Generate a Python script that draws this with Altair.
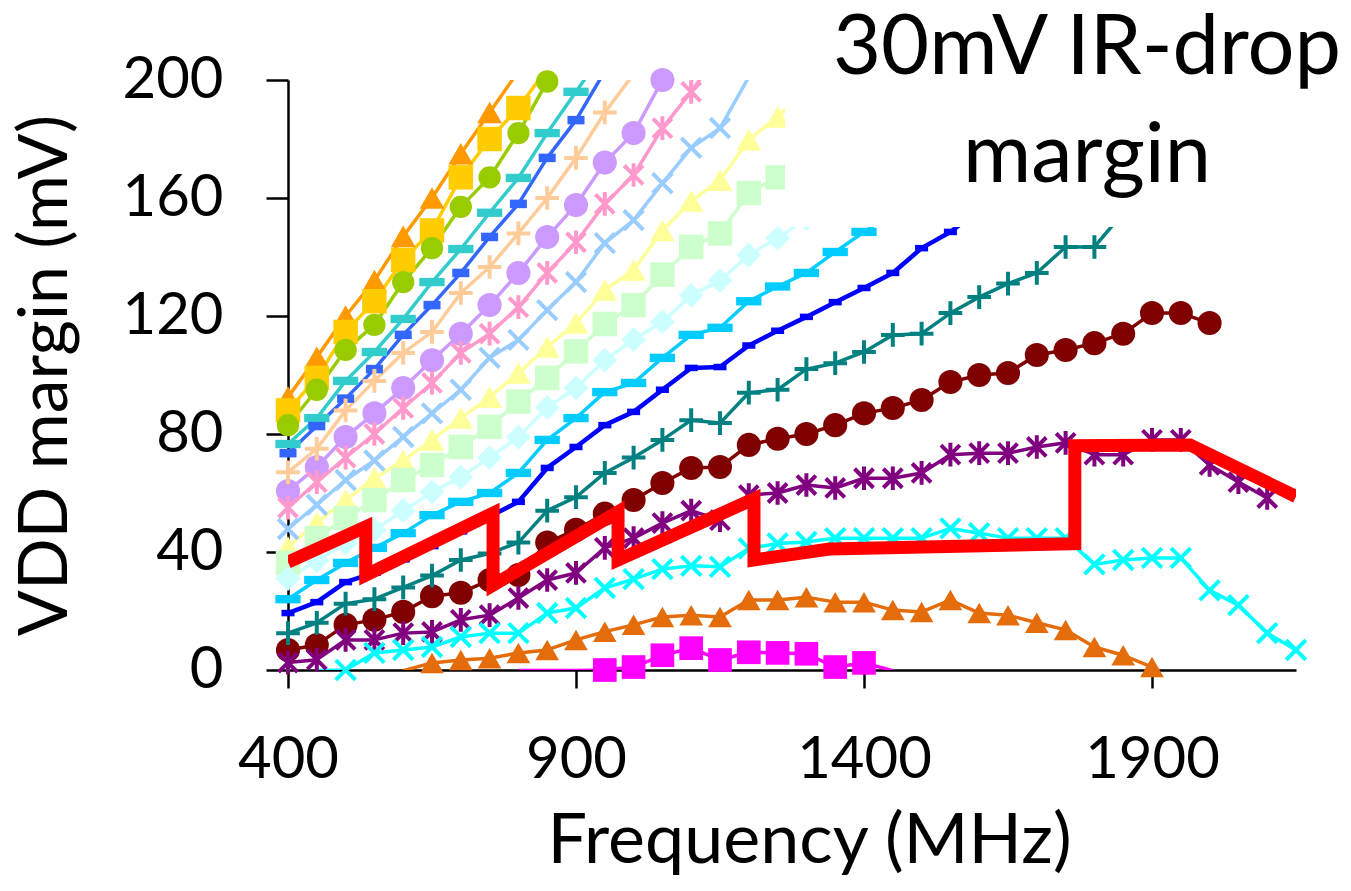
import altair as alt
import pandas as pd

STEP = 50  # MHz between measured points

# ---- measured series: (start frequency, values in mV on a 50 MHz grid) ----
s01_start, s01 = 400, [92.5, 106, 120, 132, 147, 160, 175, 189, 203]
s02_start, s02 = 400, [88, 99, 114.6, 125, 139, 149, 167, 180, 190.5, 204]
s03_start, s03 = 400, [83, 95, 108.5, 117, 131.5, 143, 157, 167, 182, 199.5]
s04_start, s04 = 400, [76.6, 85.4, 98, 107.8, 119, 131.5, 142.7, 155, 166.8, 182, 196, 210]
s05_start, s05 = 400, [73.5, 82.7, 92, 102, 113.6, 123.7, 134.6, 146.8, 158, 173.6, 186.4, 203]
s06_start, s06 = 400, [67, 75, 88, 98, 107.5, 114.6, 127.8, 136.6, 148, 160, 173.6, 189, 202]
s07_start, s07 = 400, [60.7, 68.8, 79, 87, 95.6, 105, 114, 123.7, 134.6, 146.8, 157.6, 172, 182, 200]
s08_start, s08 = 400, [55, 63.7, 72, 80, 88.8, 97.3, 107.5, 114, 123, 134.6, 145, 158, 167.8, 183.7, 196, 210]
s09_start, s09 = 400, [47.8, 56, 64.4, 71, 79, 87, 95, 105.8, 111.9, 122, 131.5, 144.7, 152.5, 165, 177, 183.7, 201]
s10_start, s10 = 400, [41.7, 50, 57.6, 65, 71, 78, 85.4, 92.5, 100.7, 109.5, 117.6, 128.8, 135.6, 149, 159, 166, 179.7, 187.5, 197]
s11_start, s11 = 400, [36.3, 44.7, 51.5, 57.6, 64.4, 69.5, 75.6, 82.4, 91, 99, 108, 117.3, 123.7, 134, 143.4, 148, 161.7, 167, 176]
s12_start, s12 = 400, [31, 37, 43, 47.5, 54, 60.3, 65.4, 72, 79, 89, 95.6, 105, 112, 118, 127, 132, 140.7, 146.4, 153]
s13_start, s13 = 400, [24, 30.5, 36.3, 41.4, 46.4, 52.5, 57, 60, 66.8, 78, 85.4, 94.2, 97.3, 105.8, 113.6, 116, 125, 130, 134.6, 141.7, 148.5, 155]
s14_start, s14 = 400, [19.3, 23, 29.8, 33, 37.5, 42, 47, 52, 57, 68.5, 75.6, 83, 87.5, 95, 102.4, 102.7, 110, 115, 119.7, 124.7, 129.5, 134.6, 143, 148.5, 156]
s15_start, s15 = 400, [12.5, 16, 22.5, 24, 28, 32, 37.3, 39.5, 43.2, 54, 58.6, 66.8, 72, 78, 84.7, 83.7, 94, 95, 102, 104, 107.8, 113.6, 114, 121, 126.4, 131, 134.6, 143.4, 143.4, 155]
s16_start, s16 = 400, [6.8, 8.5, 15.3, 17, 19.7, 25, 26.2, 30.5, 32.2, 43.2, 47.5, 53, 57.6, 63.4, 68.5, 68.8, 76.3, 78.4, 80, 83, 87, 88.8, 91.5, 97.6, 100, 100.7, 106.8, 108.5, 110.8, 114, 121, 121, 117.6]
s17_start, s17 = 400, [2.5, 3.5, 10.2, 10.2, 12.5, 12.9, 17, 18.6, 24.4, 30.5, 32.9, 41.4, 44.7, 49.8, 54, 50.8, 59.3, 60, 62.7, 61.7, 65, 65, 66.8, 73, 73.5, 73.5, 75.6, 77, 73, 73, 78, 78, 69.5, 63.7, 58.3]
s18_start, s18 = 450, [-0.2, 0, 5.8, 6.8, 7.8, 11.2, 12.5, 12.5, 19.3, 21, 27.8, 30.8, 34.2, 35.3, 35, 41.2, 42.9, 43.4, 44.7, 44.7, 44.7, 44.7, 48, 46.4, 44.7, 44.7, 44.7, 35.8, 37.3, 38, 38, 27, 22, 12.5, 6.8]
s19_start, s19 = 600, [-0.2, 2.4, 3.4, 4, 5.8, 6.8, 10.2, 13, 15.3, 18, 18.6, 18, 23.7, 23.7, 24.7, 23, 23, 20.3, 19.7, 23.7, 19.3, 18.6, 16, 13.6, 7.8, 5, 1]
s20_start, s20 = 800, [-0.2, -0.2, -0.2, 0, 1, 5, 7.4, 3.4, 6, 5.8, 5.5, 1, 2.4, -0.2]

# 30 mV IR-drop margin envelope (red)
red_f = [400, 535, 535, 756, 756, 973, 973, 1209, 1209, 1340, 1766, 1766, 1966, 2150]
red_v = [36.6, 48.5, 32.2, 53.2, 28.8, 53.6, 37.3, 58, 37.3, 41, 42.8, 76, 76.3, 58.8]

x_ticks = [400, 900, 1400, 1900]
y_ticks = [0, 40, 80, 120, 160, 200]

# ---- styles (colour, marker shape, marker size, filled?, line width) ----
PLUS = "M-1,0H1M0,-1V1"
XS = "M-0.8,-0.8L0.8,0.8M-0.8,0.8L0.8,-0.8"
AST = "M-0.8,-0.8L0.8,0.8M-0.8,0.8L0.8,-0.8M0,-1V1"
DASH_W = "M-1,-0.33H1V0.33H-1Z"
DASH_S = "M-1,-0.5H1V0.5H-1Z"

series = [
    (s01_start, s01, "#FF9900", "triangle-up", 620, True, 3.5),
    (s02_start, s02, "#FFCC00", "square", 600, True, 3.5),
    (s03_start, s03, "#99CC00", "circle", 500, True, 3.5),
    (s04_start, s04, "#33CCCC", DASH_W, 640, True, 3.5),
    (s05_start, s05, "#3366FF", DASH_S, 290, True, 3.5),
    (s06_start, s06, "#FFCC99", PLUS, 560, False, 3.5),
    (s07_start, s07, "#CC99FF", "circle", 580, True, 3.5),
    (s08_start, s08, "#FF99CC", AST, 560, False, 3.5),
    (s09_start, s09, "#99CCFF", XS, 600, False, 3.5),
    (s10_start, s10, "#FFFF99", "triangle-up", 620, True, 3.5),
    (s11_start, s11, "#CCFFCC", "square", 600, True, 3.5),
    (s12_start, s12, "#CCFFFF", "diamond", 620, True, 3.5),
    (s13_start, s13, "#00CCFF", DASH_W, 640, True, 3.5),
    (s14_start, s14, "#0000FF", DASH_S, 170, True, 4.5),
    (s15_start, s15, "#008080", PLUS, 560, False, 3.5),
    (s16_start, s16, "#800000", "circle", 580, True, 3.5),
    (s17_start, s17, "#800080", AST, 560, False, 3.5),
    (s18_start, s18, "#00FFFF", XS, 600, False, 3.5),
    (s19_start, s19, "#E46C0A", "triangle-up", 560, True, 3.5),
    (s20_start, s20, "#FF00FF", "square", 560, True, 3.5),
]

rows = []
for k, (start, vals, col, shp, sz, filled, lw) in enumerate(series):
    for i, v in enumerate(vals):
        rows.append({"series": f"S{k+1:02d}", "f": start + STEP * i, "v": v,
                     "col": col, "shp": shp, "sz": sz, "filled": filled, "lw": lw})
df = pd.DataFrame(rows)
markers = df[(df["v"] >= 0) & (df["v"] <= 200)]
df_filled = markers[markers["filled"]]
df_stroked = markers[~markers["filled"]]
red_df = pd.DataFrame({"f": red_f, "v": red_v, "idx": list(range(len(red_f)))})

FONT = "Lato"
xaxis = alt.Axis(values=x_ticks, format="d", title="Frequency (MHz)", grid=False,
                 labelFont=FONT, labelFontSize=58, labelColor="black", labelPadding=43,
                 labelFlush=False, labelOverlap=False,
                 titleFont=FONT, titleFontSize=70, titleFontWeight="normal", titleColor="black",
                 titleX=521, titleY=192, titleBaseline="alphabetic", titleAlign="center",
                 domainColor="black", domainWidth=2.5, tickColor="black", tickWidth=2.5, tickSize=18)
yaxis = alt.Axis(values=y_ticks, format="d", title="VDD margin (mV)", grid=False,
                 labelFont=FONT, labelFontSize=58, labelColor="black", labelPadding=43,
                 labelFlush=False, labelOverlap=False,
                 titleFont=FONT, titleFontSize=68, titleFontWeight="normal", titleColor="black",
                 titleAngle=-90, titleX=-222, titleY=295, titleBaseline="alphabetic", titleAlign="center",
                 domainColor="black", domainWidth=2.5, tickColor="black", tickWidth=2.5, tickSize=22)

xenc = alt.X("f:Q", scale=alt.Scale(domain=[400, 2150], nice=False, zero=False), axis=xaxis)
yenc = alt.Y("v:Q", scale=alt.Scale(domain=[0, 200], nice=False, zero=False), axis=yaxis)

lines = alt.Chart(df).mark_line(clip=True, strokeJoin="round").encode(
    x=xenc, y=yenc, detail="series:N",
    color=alt.Color("col:N", scale=None),
    strokeWidth=alt.StrokeWidth("lw:Q", scale=None),
    order="f:Q",
)
pts_filled = alt.Chart(df_filled).mark_point(filled=True, opacity=1).encode(
    x=xenc, y=yenc,
    shape=alt.Shape("shp:N", scale=None),
    size=alt.Size("sz:Q", scale=None),
    color=alt.Color("col:N", scale=None),
)
pts_stroked = alt.Chart(df_stroked).mark_point(filled=False, opacity=1, strokeWidth=4).encode(
    x=xenc, y=yenc,
    shape=alt.Shape("shp:N", scale=None),
    size=alt.Size("sz:Q", scale=None),
    color=alt.Color("col:N", scale=None),
)
box = alt.Chart(pd.DataFrame({"a": [0]})).mark_rect(color="white").encode(
    x=alt.value(497), x2=alt.value(1063), y=alt.value(-80), y2=alt.value(147)
)
red = alt.Chart(red_df).mark_line(color="#FF0000", strokeWidth=13, strokeJoin="miter",
                                  strokeCap="butt", clip=True).encode(
    x=xenc, y=yenc, order="idx:Q"
)
t1 = alt.Chart(pd.DataFrame({"a": [0]})).mark_text(
    text="30mV IR-drop", font=FONT, fontSize=83, color="black", align="center", baseline="alphabetic"
).encode(x=alt.value(799), y=alt.value(-6))
t2 = alt.Chart(pd.DataFrame({"a": [0]})).mark_text(
    text="margin", font=FONT, fontSize=83, color="black", align="center", baseline="alphabetic"
).encode(x=alt.value(799), y=alt.value(102))

chart = alt.layer(lines, pts_filled, pts_stroked, box, red, t1, t2).properties(
    width=1008, height=590,
    autosize=alt.AutoSizeParams(type="none"),
    padding={"left": 288, "top": 80, "right": 55, "bottom": 221},
    background="white",
).configure_view(stroke=None)

chart.save("out.html", embed_options={"renderer": "svg", "actions": False})
